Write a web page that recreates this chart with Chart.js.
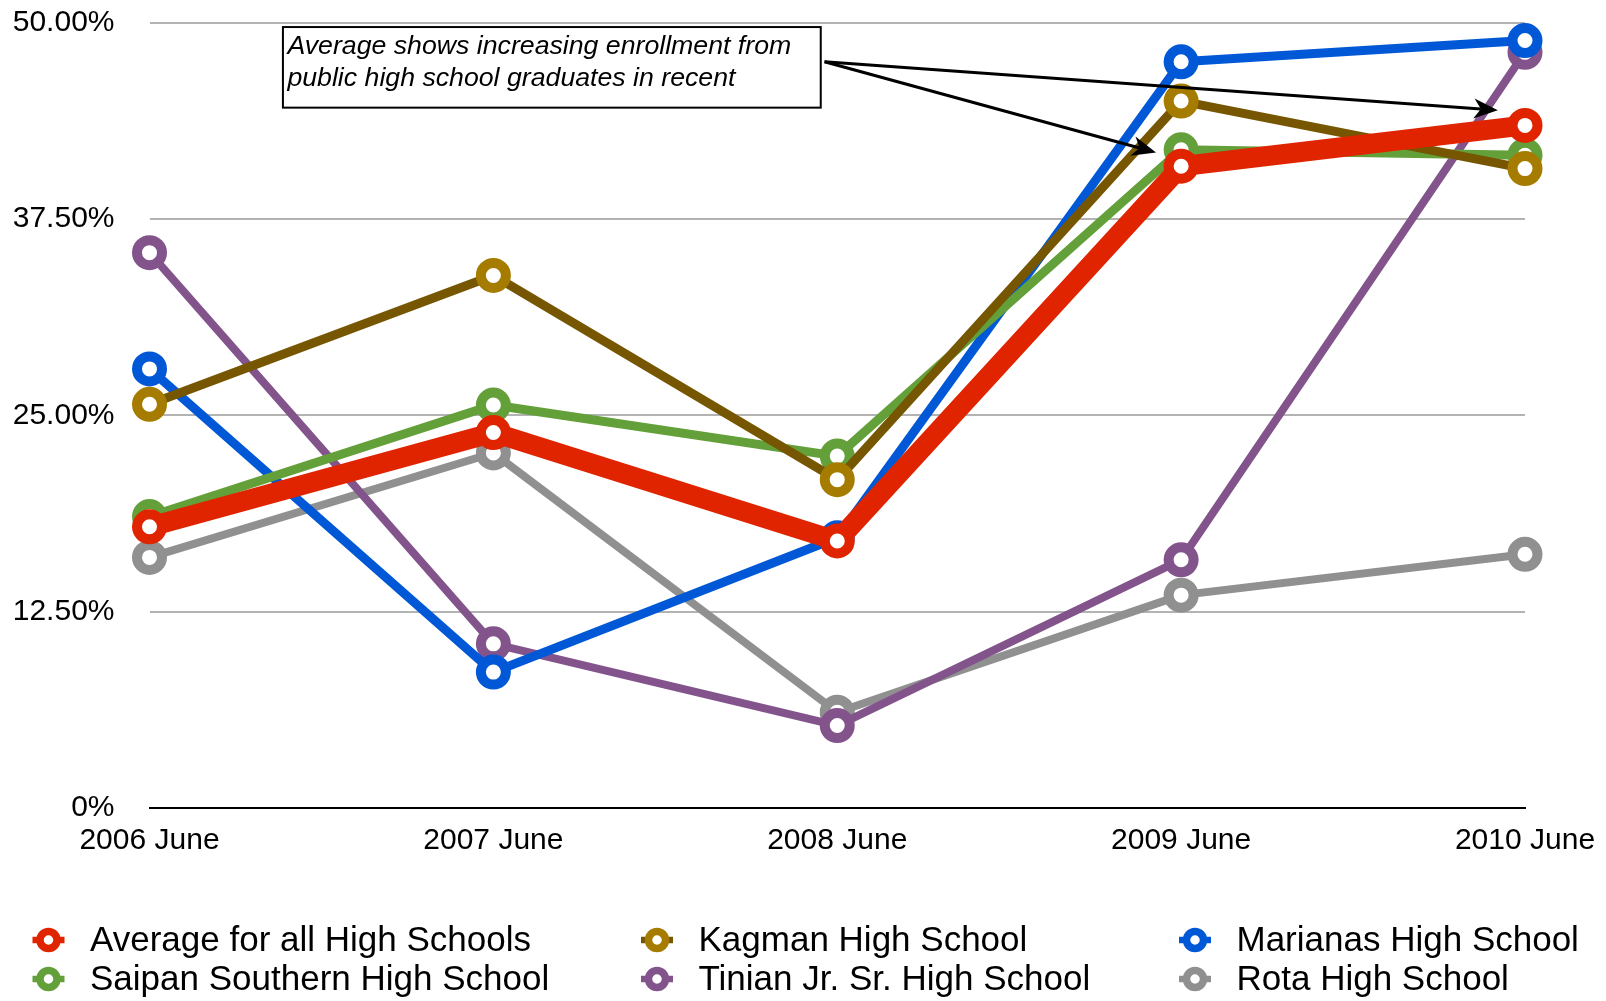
<!DOCTYPE html>
<html>
<head>
<meta charset="utf-8">
<script src="https://cdn.jsdelivr.net/npm/chart.js@4.4.1/dist/chart.umd.min.js"></script>
<style>
  html, body { margin: 0; padding: 0; background: #fff; }
  #wrap { width: 1606px; height: 1001px; }
</style>
</head>
<body>
<div id="wrap"><canvas id="chart"></canvas></div>
<script>
const years = ["2006 June", "2007 June", "2008 June", "2009 June", "2010 June"];
const average = [17.9, 23.9, 17.0, 40.85, 43.45];
const kagman = [25.7, 33.9, 20.9, 45.0, 40.7];
const marianas = [27.95, 8.65, 17.2, 47.5, 48.85];
const saipanSouthern = [18.55, 25.65, 22.4, 41.9, 41.55];
const tinian = [35.35, 10.45, 5.25, 15.8, 48.1];
const rota = [15.95, 22.6, 6.1, 13.55, 16.15];
const yTicks = [0, 12.5, 25, 37.5, 50];
const yTickLabels = ["0%", "12.50%", "25.00%", "37.50%", "50.00%"];
const noteLines = ["Average shows increasing enrollment from", "public high school graduates in recent"];

const FONT = "'Liberation Sans', Arial, Helvetica, sans-serif";
const COLORS = {
  average: "#e02400",
  kagmanLine: "#765600",
  kagmanPoint: "#a67c00",
  marianas: "#0058d6",
  saipan: "#64a03a",
  tinian: "#83548c",
  rota: "#8f908f",
  grid: "#b3b3b3"
};

function series(label, data, line, point, width, order) {
  return {
    label, data, order,
    borderColor: line,
    pointBorderColor: point,
    pointBackgroundColor: "#fff",
    borderWidth: width,
    pointRadius: 12.5,
    pointBorderWidth: 10,
    pointHoverRadius: 12.5,
    tension: 0,
    borderJoinStyle: "round",
    borderCapStyle: "round",
    clip: false
  };
}

const legendPlugin = {
  id: "gridLegend",
  afterDraw(chart) {
    const ctx = chart.ctx;
    const colX = [48.5, 657, 1195];
    const rowY = [940, 979];
    ctx.save();
    chart.data.datasets.forEach((ds, i) => {
      const x = colX[i % 3], y = rowY[Math.floor(i / 3)];
      ctx.strokeStyle = ds.borderColor;
      ctx.lineWidth = 6.5;
      ctx.beginPath();
      ctx.moveTo(x - 16, y); ctx.lineTo(x + 16, y);
      ctx.stroke();
      ctx.beginPath();
      ctx.arc(x, y, 8.5, 0, Math.PI * 2);
      ctx.fillStyle = "#fff";
      ctx.fill();
      ctx.lineWidth = 7.5;
      ctx.strokeStyle = ds.pointBorderColor;
      ctx.stroke();
      ctx.fillStyle = "#000";
      ctx.font = "35px " + FONT;
      ctx.textBaseline = "middle";
      ctx.textAlign = "left";
      ctx.fillText(ds.label, x + 41.5, y + 1);
    });
    ctx.restore();
  }
};

function arrow(ctx, x0, y0, x1, y1) {
  const a = Math.atan2(y1 - y0, x1 - x0);
  const len = 24, half = 10, notch = 17;
  ctx.beginPath();
  ctx.moveTo(x0, y0);
  ctx.lineTo(x1 - Math.cos(a) * notch, y1 - Math.sin(a) * notch);
  ctx.stroke();
  ctx.beginPath();
  ctx.moveTo(x1, y1);
  ctx.lineTo(x1 - Math.cos(a) * len - Math.sin(a) * half, y1 - Math.sin(a) * len + Math.cos(a) * half);
  ctx.lineTo(x1 - Math.cos(a) * notch, y1 - Math.sin(a) * notch);
  ctx.lineTo(x1 - Math.cos(a) * len + Math.sin(a) * half, y1 - Math.sin(a) * len - Math.cos(a) * half);
  ctx.closePath();
  ctx.fill();
}

const notePlugin = {
  id: "note",
  afterDatasetsDraw(chart) {
    const { ctx, chartArea: area, scales: { y } } = chart;
    const px = i => area.left + i / (years.length - 1) * (area.right - area.left);
    ctx.save();
    // text box
    const bx0 = px(0.388), bx1 = px(1.952);
    const by0 = y.getPixelForValue(49.71), by1 = y.getPixelForValue(44.58);
    ctx.fillStyle = "#fff";
    ctx.fillRect(bx0, by0, bx1 - bx0, by1 - by0);
    ctx.strokeStyle = "#000";
    ctx.lineWidth = 2;
    ctx.strokeRect(bx0, by0, bx1 - bx0, by1 - by0);
    ctx.fillStyle = "#000";
    ctx.font = "italic 26.7px " + FONT;
    ctx.textBaseline = "middle";
    ctx.fillText(noteLines[0], px(0.401), y.getPixelForValue(48.45));
    ctx.fillText(noteLines[1], px(0.401), y.getPixelForValue(46.42));
    // arrows
    ctx.lineWidth = 3;
    const sx = px(1.963), sy = y.getPixelForValue(47.5);
    arrow(ctx, sx, sy, px(2.927), y.getPixelForValue(41.73));
    arrow(ctx, sx, sy, px(3.921), y.getPixelForValue(44.42));
    ctx.restore();
  }
};

new Chart(document.getElementById("chart"), {
  type: "line",
  data: {
    labels: years,
    datasets: [
      series("Average for all High Schools", average, COLORS.average, COLORS.average, 20, 0),
      series("Kagman High School", kagman, COLORS.kagmanLine, COLORS.kagmanPoint, 9, 1),
      series("Marianas High School", marianas, COLORS.marianas, COLORS.marianas, 9, 3),
      series("Saipan Southern High School", saipanSouthern, COLORS.saipan, COLORS.saipan, 9, 2),
      series("Tinian Jr. Sr. High School", tinian, COLORS.tinian, COLORS.tinian, 8, 4),
      series("Rota High School", rota, COLORS.rota, COLORS.rota, 8, 5)
    ]
  },
  options: {
    responsive: true,
    maintainAspectRatio: false,
    animation: false,
    events: [],
    layout: { padding: { top: 18, right: 81, bottom: 133, left: 0 } },
    plugins: {
      legend: { display: false },
      tooltip: { enabled: false }
    },
    scales: {
      x: {
        offset: false,
        grid: { display: false, drawTicks: false },
        border: { display: true, color: "#000", width: 2 },
        ticks: {
          color: "#000",
          font: { family: FONT, size: 30 },
          padding: 15,
          maxRotation: 0,
          autoSkip: false
        },
        afterFit(scale) {
          scale.height = 60;
          scale.paddingLeft = 0; scale.paddingRight = 0;
        }
      },
      y: {
        min: 0,
        max: 50,
        afterBuildTicks(scale) { scale.ticks = yTicks.map(v => ({ value: v })); },
        grid: {
          drawTicks: false,
          color: c => (c.tick && c.tick.value === 0 ? "#000" : COLORS.grid),
          lineWidth: 2
        },
        border: { display: false },
        ticks: {
          color: "#000",
          font: { family: FONT, size: 30, lineHeight: 0.8 },
          padding: 35,
          callback: v => yTickLabels[yTicks.indexOf(v)]
        },
        afterFit(scale) {
          scale.width = 149.5;
          scale.paddingTop = 0; scale.paddingBottom = 0;
        }
      }
    }
  },
  plugins: [notePlugin, legendPlugin]
});
</script>
</body>
</html>
